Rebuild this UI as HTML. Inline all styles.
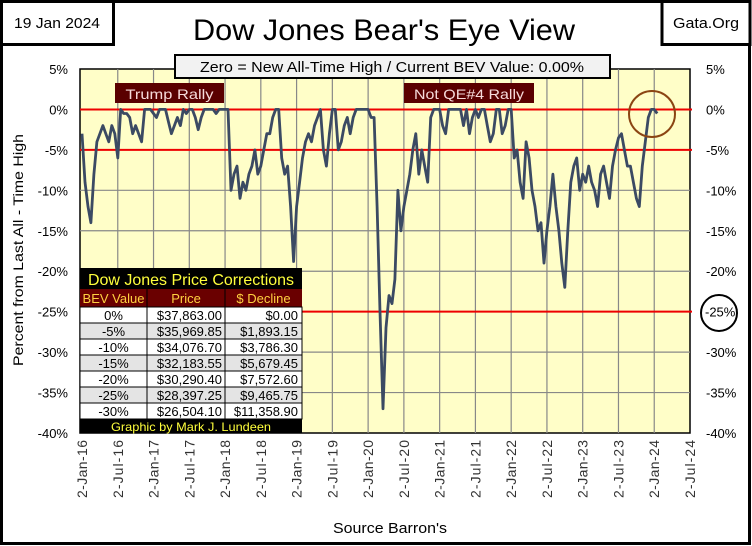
<!DOCTYPE html>
<html><head><meta charset="utf-8"><style>
html,body{margin:0;padding:0;background:#fff;}
svg{display:block;font-family:"Liberation Sans",sans-serif;}
</style></head><body>
<svg id="chart" width="752" height="546" viewBox="0 0 752 546" xmlns="http://www.w3.org/2000/svg">
<rect x="1.5" y="1.5" width="748" height="542" fill="#fff" stroke="#000" stroke-width="3"/>
<rect x="1.5" y="1.5" width="112" height="43" fill="#fff" stroke="#000" stroke-width="3"/>
<text x="57" y="28" font-size="15" text-anchor="middle" textLength="86" lengthAdjust="spacingAndGlyphs">19 Jan 2024</text>
<rect x="662" y="1.5" width="88" height="43" fill="#fff" stroke="#000" stroke-width="3"/>
<text x="706" y="28" font-size="15" text-anchor="middle" textLength="66" lengthAdjust="spacingAndGlyphs">Gata.Org</text>
<text x="384" y="40" font-size="30" text-anchor="middle" textLength="382" lengthAdjust="spacingAndGlyphs">Dow Jones Bear's Eye View</text>
<g id="plot"></g>
<rect x="175" y="55" width="435" height="23" fill="#f2f2f2" stroke="#000" stroke-width="2"/>
<text x="392" y="72" font-size="15" text-anchor="middle" textLength="384" lengthAdjust="spacingAndGlyphs">Zero = New All-Time High / Current BEV Value:  0.00%</text>
<rect x="115" y="83" width="109" height="20" fill="#5a0000"/>
<text x="169.5" y="99" font-size="14" fill="#f6dada" text-anchor="middle" textLength="88" lengthAdjust="spacingAndGlyphs">Trump Rally</text>
<rect x="404" y="83" width="130" height="20" fill="#5a0000"/>
<text x="469" y="99" font-size="14" fill="#f6dada" text-anchor="middle" textLength="110" lengthAdjust="spacingAndGlyphs">Not QE#4 Rally</text>
<circle cx="652" cy="114" r="23" fill="none" stroke="#8b4513" stroke-width="2"/>
<circle cx="719" cy="313" r="18" fill="none" stroke="#000" stroke-width="2"/>
<text transform="translate(23,250) rotate(-90)" font-size="14" text-anchor="middle" textLength="232" lengthAdjust="spacingAndGlyphs">Percent from  Last All - Time  High</text>
<text x="390" y="533" font-size="15" text-anchor="middle" textLength="114" lengthAdjust="spacingAndGlyphs">Source Barron's</text>
<g id="table"></g>
</svg>
<script>
const yTicks=[5,0,-5,-10,-15,-20,-25,-30,-35,-40];
const xTickLabels=["2-Jan-16","2-Jul-16","2-Jan-17","2-Jul-17","2-Jan-18","2-Jul-18","2-Jan-19","2-Jul-19","2-Jan-20","2-Jul-20","2-Jan-21","2-Jul-21","2-Jan-22","2-Jul-22","2-Jan-23","2-Jul-23","2-Jan-24","2-Jul-24"];
const startYear=2016;
// semi-monthly BEV values (%), from Jan 2016
const bev2016=[-3,-9,-12,-14,-8,-4,-3,-2,-3,-4,-2,-3,-6,0,-0.5,-0.5,-1,-3,-2,-3,-4,0,0,0];
const bev2017=[-0.5,-1,0,0,0,-1.5,-3,-2,-1,-2,0,-0.5,0,0,-1,-2.5,-1,0,0,0,0,-0.5,0,0];
const bev2018=[0,0,-10,-8,-7,-11,-9,-10,-8,-7,-5,-8,-7,-5,-3,-3,-1,0,0,-6,-8,-7,-12,-18.8];
const bev2019=[-12,-9,-6,-4,-3,-4,-2,-1,0,-5,-7,-3,0,0,-5,-4,-2,-1,-3,-1,0,0,0,0];
const bev2020=[0,-1,-1,-12,-25,-37,-27,-23,-24,-21,-10,-15,-12,-10,-8,-5,-3,-8,-5,-7,-9,-1,0,0];
const bev2021=[0,-2,-3,0,0,0,0,0,-2,0,-3,-1,0,-1,0,0,-2,-4,-3,0,0,-3,-2,0];
const bev2022=[0,-6,-5,-9,-11,-4,-6,-10,-12,-15,-14,-19,-15,-12,-8,-12,-15,-19,-22,-15,-9,-7,-6,-10];
const bev2023=[-8,-9,-7,-9,-10,-12,-8,-7,-9,-11,-7,-5,-3.5,-3,-5,-7,-7,-9,-11,-12,-7,-4,-1,0];
const bev2024=[0,-0.5];
const bev=[].concat(bev2016,bev2017,bev2018,bev2019,bev2020,bev2021,bev2022,bev2023,bev2024);
const tableRows=[["0%","$37,863.00","$0.00"],["-5%","$35,969.85","$1,893.15"],["-10%","$34,076.70","$3,786.30"],["-15%","$32,183.55","$5,679.45"],["-20%","$30,290.40","$7,572.60"],["-25%","$28,397.25","$9,465.75"],["-30%","$26,504.10","$11,358.90"]];

const NS="http://www.w3.org/2000/svg";
const L=82,R=690,T=69,B=433;
const yScale=v=>T+(5-v)*(B-T)/45;
const xScale=t=>L+(t-startYear)*(R-L)/8.5;
function mk(tag,attrs,parent){const e=document.createElementNS(NS,tag);for(const k in attrs)e.setAttribute(k,attrs[k]);parent.appendChild(e);return e;}
const plot=document.getElementById('plot');
const bg=mk('rect',{x:80,y:T,width:R-80,height:B-T,fill:'#fffec8',stroke:'#000','stroke-width':1.5},plot);


xTickLabels.forEach((lab,i)=>{
  const x=xScale(startYear+i*0.5);
  if(i>0&&i<xTickLabels.length-1){const g=mk('line',{x1:x,x2:x,y1:T,y2:B,stroke:'#888','stroke-width':1.2},plot);
  
  }
  const t=mk('text',{transform:`translate(${x+5},${440}) rotate(-90)`,'font-size':14,fill:'#333','text-anchor':'end',textLength:lab.length>8?63:58,lengthAdjust:'spacing'},plot);
  t.textContent=lab;
  
  
});
yTicks.forEach(v=>{
  const y=yScale(v);
  if(v<5&&v>-40){const g=mk('line',{x1:80,x2:R,y1:y,y2:y,stroke:'#888','stroke-width':1.2},plot);
  
  }
  const a=mk('text',{x:68,y:y+5,'font-size':13,'text-anchor':'end'},plot);a.textContent=v+'%';
  
  
  if(v!==-25){const b=mk('text',{x:706,y:y+5,'font-size':13},plot);b.textContent=v+'%';
  
  }
});
const b25=mk('text',{x:705,y:yScale(-25)+5,'font-size':13},plot);b25.textContent='-25%';


[[0,80],[-5,80],[-25,302]].forEach(([v,x0])=>{
  const l=mk('line',{x1:x0,x2:R+2,y1:yScale(v),y2:yScale(v),stroke:'#e00','stroke-width':2},plot);
  
  
});
let d='';bev.forEach((v,i)=>{d+=(i?'L':'M')+xScale(startYear+i/24).toFixed(1)+','+yScale(v).toFixed(1);});
const line=mk('path',{d:d,fill:'none',stroke:'#3b4a63','stroke-width':2.8,'stroke-linejoin':'round'},plot);



const tb=document.getElementById('table');
const tx=80,tw=222,c1=147,c2=225;
const tt=mk('rect',{x:tx,y:268,width:tw,height:21,fill:'#000'},tb);


const ttx=mk('text',{x:tx+tw/2,y:285,'font-size':16,fill:'#ffff3c','text-anchor':'middle',textLength:206,lengthAdjust:'spacingAndGlyphs'},tb);ttx.textContent='Dow Jones Price Corrections';


const hd=mk('rect',{x:tx,y:289,width:tw,height:18,fill:'#6a0000'},tb);


[["BEV Value",(tx+c1)/2],["Price",(c1+c2)/2],["$ Decline",(c2+tx+tw)/2]].forEach(([s,x])=>{
  const h=mk('text',{x:x,y:303,'font-size':13,fill:'#ffd040','text-anchor':'middle'},tb);h.textContent=s;
  
  
});
tableRows.forEach((r,i)=>{
  const y=307+i*16;
  const rr=mk('rect',{x:tx,y:y,width:tw,height:16,fill:i%2?'#e4e4e4':'#fff',stroke:'#000','stroke-width':1},tb);
  
  
  [[r[0],(tx+c1)/2,'middle'],[r[1],c2-3,'end'],[r[2],tx+tw-4,'end']].forEach(([s,x,a])=>{
    const c=mk('text',{x:x,y:y+13,'font-size':13,'text-anchor':a},tb);c.textContent=s;
    
    
  });
});
[c1,c2].forEach(x=>{const v=mk('line',{x1:x,x2:x,y1:289,y2:419,stroke:'#000','stroke-width':1},tb);

});
const ft=mk('rect',{x:tx,y:419,width:tw,height:14,fill:'#000'},tb);


const ftx=mk('text',{x:tx+tw/2,y:431,'font-size':12,fill:'#ffff3c','text-anchor':'middle',textLength:160,lengthAdjust:'spacingAndGlyphs'},tb);ftx.textContent='Graphic by Mark J. Lundeen';


</script>
</body></html>
